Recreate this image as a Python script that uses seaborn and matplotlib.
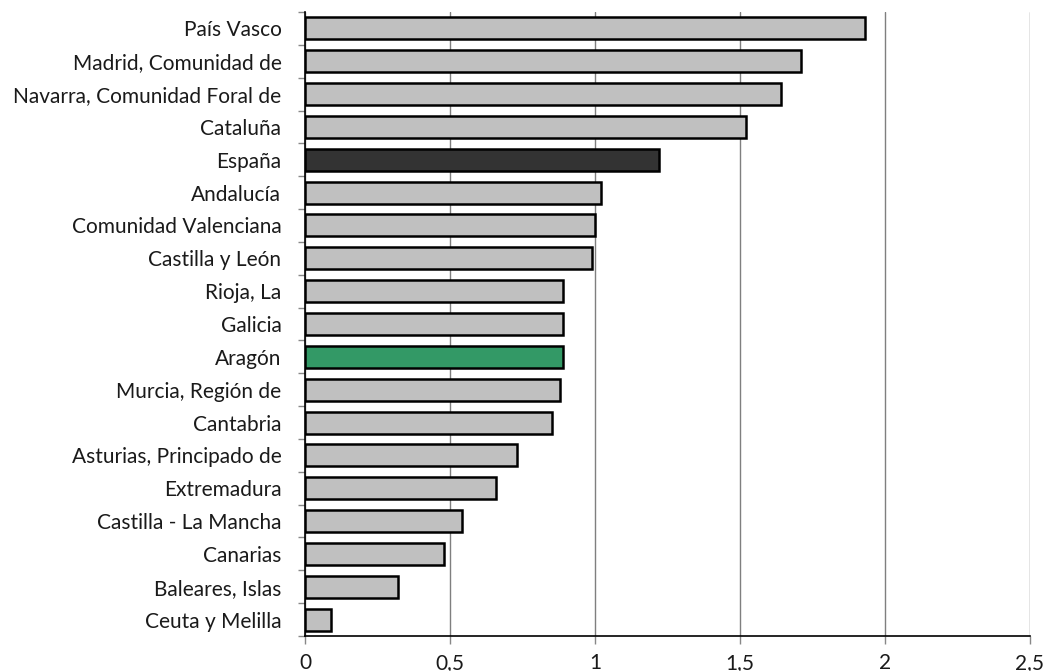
import matplotlib
matplotlib.use('Agg')
import matplotlib.pyplot as plt
from matplotlib.ticker import FixedLocator, FuncFormatter
import seaborn as sns
import pandas as pd

regiones = ['País Vasco', 'Madrid, Comunidad de', 'Navarra, Comunidad Foral de', 'Cataluña',
            'España', 'Andalucía', 'Comunidad Valenciana', 'Castilla y León', 'Rioja, La',
            'Galicia', 'Aragón', 'Murcia, Región de', 'Cantabria', 'Asturias, Principado de',
            'Extremadura', 'Castilla - La Mancha', 'Canarias', 'Baleares, Islas', 'Ceuta y Melilla']
valores = [1.93, 1.71, 1.64, 1.52, 1.22, 1.02, 1.00, 0.99, 0.89, 0.89, 0.89, 0.88, 0.85,
           0.73, 0.66, 0.54, 0.48, 0.32, 0.09]
x_ticks = [0, 0.5, 1, 1.5, 2, 2.5]

gris = '#C0C0C0'
colores = {r: gris for r in regiones}
colores['España'] = '#333333'
colores['Aragón'] = '#339966'

df = pd.DataFrame({'region': regiones, 'valor': valores})

sns.set_style('white')
plt.rcParams['font.family'] = ['Lato', 'DejaVu Sans']

fig = plt.figure(figsize=(10.45, 6.71), dpi=100)
ax = fig.add_axes([305 / 1045, 1 - 636 / 671, (1030 - 305) / 1045, (636 - 12) / 671])

sns.barplot(data=df, x='valor', y='region', hue='region', palette=colores, order=regiones,
            hue_order=regiones, orient='h', width=0.67, legend=False, dodge=False,
            saturation=1, edgecolor='black', linewidth=1.8, ax=ax, zorder=3)

ax.set_xlim(0, 2.5)
ax.set_ylim(len(regiones) - 0.5, -0.5)
ax.set_xticks(x_ticks)
ax.xaxis.set_major_formatter(FuncFormatter(lambda v, p: ('%g' % v).replace('.', ',')))
ax.grid(axis='x', color='#7f7f7f', linewidth=1, zorder=0)
ax.grid(axis='y', visible=False)

ax.yaxis.set_minor_locator(FixedLocator([i - 0.5 for i in range(len(regiones) + 1)]))
ax.tick_params(axis='y', which='major', length=0, pad=17, labelsize=15, labelcolor='#1a1a1a')
ax.tick_params(axis='y', which='minor', length=5, color='#888888', width=1, left=True)
ax.tick_params(axis='x', which='major', length=6, color='#888888', width=1, bottom=True,
               pad=6, labelsize=15, labelcolor='#1a1a1a')

for s in ['top', 'right']:
    ax.spines[s].set_visible(False)
for s in ['left', 'bottom']:
    ax.spines[s].set_color('black')
    ax.spines[s].set_linewidth(1.2)

ax.set_xlabel('')
ax.set_ylabel('')

fig.savefig('out.png', dpi=100)
